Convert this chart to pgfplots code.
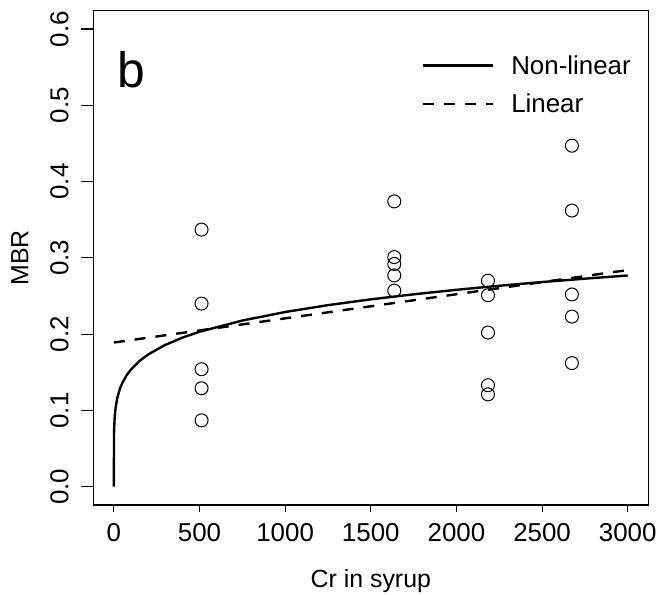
\documentclass[border=0pt]{standalone}
\usepackage{fontspec}
\setmainfont{Liberation Sans}
\usepackage{pgfplots}
\pgfplotsset{compat=1.18}
\usetikzlibrary{calc}

\begin{document}
\begin{tikzpicture}
\begin{axis}[
  name=ax,
  scale only axis,
  width=555bp, height=494.3bp,
  xmin=-120, xmax=3120,
  ymin=-0.024, ymax=0.624,
  xtick={0,500,1000,1500,2000,2500,3000},
  ytick={0,0.1,0.2,0.3,0.4,0.5,0.6},
  /pgf/number format/assume math mode=true,
  xticklabel style={/pgf/number format/1000 sep={}, yshift=-11bp},
  yticklabel style={/pgf/number format/fixed, /pgf/number format/precision=1,
    /pgf/number format/fixed zerofill, rotate=90, anchor=south, yshift=17bp},
  tick label style={font=\fontsize{26}{30}\selectfont},
  label style={font=\fontsize{25}{30}\selectfont},
  xtick pos=left, ytick pos=left,
  tick align=outside,
  x tick style={/pgfplots/major tick length=7bp},
  y tick style={/pgfplots/major tick length=12bp},
  axis line style={line width=1.2bp},
  every tick/.style={line width=1.2bp, black},
  xlabel={Cr in syrup},
  ylabel={MBR},
  xlabel style={yshift=-20bp},
  ylabel style={yshift=15bp},
  legend style={draw=none, fill=none, at={(0.5917,0.914)}, anchor=north west,
    font=\fontsize{26}{30}\selectfont, row sep=14bp, column sep=15bp, inner sep=0pt},
  legend cell align=left,
  legend image code/.code={\draw[#1] (0bp,0bp) -- (70bp,0bp);},
]
% observations
\addplot[only marks, mark=o, mark size=6.5bp, line width=1bp, forget plot] coordinates {
  (512,0.337) (512,0.240) (512,0.154) (512,0.129) (512,0.087)
  (1637,0.374) (1637,0.301) (1637,0.292) (1637,0.277) (1637,0.257)
  (2184,0.270) (2184,0.251) (2184,0.202) (2184,0.133) (2184,0.121)
  (2674,0.447) (2674,0.362) (2674,0.252) (2674,0.223) (2674,0.162)
};
% non-linear fit
\addplot[black, line width=2.4bp] coordinates {
  (0,0) (1,0.069) (2,0.078) (5,0.0915) (10,0.1032) (20,0.1164) (35,0.1282)
  (50,0.1363) (75,0.1462) (100,0.1536) (150,0.1649) (200,0.1733) (300,0.1859)
  (400,0.1954) (500,0.2031) (750,0.2178) (1000,0.2290) (1250,0.2380)
  (1500,0.2456) (1750,0.2522) (2000,0.2581) (2250,0.2634) (2500,0.2683)
  (2750,0.2727) (3000,0.2769)
};
\addlegendentry{Non-linear}
% linear fit
\addplot[black, line width=2.4bp, dash pattern=on 11bp off 10bp] coordinates {
  (0,0.189) (3000,0.284)
};
\addlegendentry{Linear}
\node[anchor=base west, inner sep=0pt, font=\fontsize{50}{60}\selectfont] at (axis cs:22,0.523) {b};
\end{axis}
\pgfresetboundingbox
\path[use as bounding box] ($(ax.south west)+(-93.3bp,-90bp)$) rectangle ($(ax.north east)+(9.7bp,10.7bp)$);
\end{tikzpicture}
\end{document}
